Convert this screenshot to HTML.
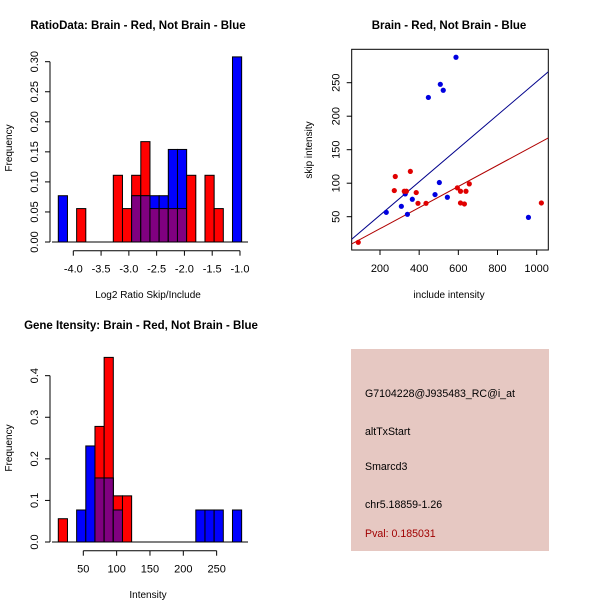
<!DOCTYPE html>
<html><head><meta charset="utf-8"><style>
body{margin:0;background:#fff}
svg{display:block;font-family:"Liberation Sans",sans-serif}
</style></head><body>
<svg id="s" width="600" height="600" viewBox="0 0 600 600">
<rect width="600" height="600" fill="#fff"/>
<text x="138" y="29" font-size="11.5" font-weight="bold" text-anchor="middle">RatioData: Brain - Red, Not Brain - Blue</text>
<text x="148" y="298" font-size="10" text-anchor="middle">Log2 Ratio Skip/Include</text>
<text transform="translate(12,148) rotate(-90)" font-size="10" text-anchor="middle">Frequency</text>
<text x="449" y="29" font-size="11.5" font-weight="bold" text-anchor="middle">Brain - Red, Not Brain - Blue</text>
<text x="449" y="298" font-size="10" text-anchor="middle">include intensity</text>
<text transform="translate(312,150) rotate(-90)" font-size="10" text-anchor="middle">skip intensity</text>
<text x="141" y="329" font-size="11.5" font-weight="bold" text-anchor="middle">Gene Itensity: Brain - Red, Not Brain - Blue</text>
<text x="148" y="598" font-size="10" text-anchor="middle">Intensity</text>
<text transform="translate(12,448) rotate(-90)" font-size="10" text-anchor="middle">Frequency</text>
<g>
<rect x="351" y="349" width="198" height="202" fill="#e6c8c2"/>
<text x="365" y="397" font-size="10.6">G7104228@J935483_RC@i_at</text>
<text x="365" y="435" font-size="10.6">altTxStart</text>
<text x="365" y="470" font-size="10.6">Smarcd3</text>
<text x="365" y="508" font-size="10.6">chr5.18859-1.26</text>
<text x="365" y="537" font-size="10.6" fill="#a00000">Pval: 0.185031</text>
</g>
</svg>
<script>
// Ratio histogram data
const ratioBinStart = -4.27, ratioBinWidth = 0.165;
const ratioRed  = [0,0,0.0556,0,0,0,0.111,0.0556,0.111,0.167,0.0556,0.0556,0.0556,0.0556,0.111,0,0.111,0.0556,0,0];
const ratioBlue = [0.077,0,0,0,0,0,0,0,0.077,0.077,0.077,0.077,0.154,0.154,0,0,0,0,0,0.308];
const ratioXTicks = [-4.0,-3.5,-3.0,-2.5,-2.0,-1.5,-1.0];
const ratioXTickLabels = ["-4.0","-3.5","-3.0","-2.5","-2.0","-1.5","-1.0"];
const ratioYTicks = [0,0.05,0.10,0.15,0.20,0.25,0.30];
const ratioYTickLabels = ["0.00","0.05","0.10","0.15","0.20","0.25","0.30"];
// Gene intensity histogram data
const geneBinStart = 12.5, geneBinWidth = 13.75;
const geneRed  = [0.056,0,0,0,0.278,0.444,0.111,0.111,0,0,0,0,0,0,0,0,0,0,0,0];
const geneBlue = [0,0,0.077,0.231,0.154,0.154,0.077,0,0,0,0,0,0,0,0,0.077,0.077,0.077,0,0.077];
const geneXTicks = [50,100,150,200,250];
const geneXTickLabels = ["50","100","150","200","250"];
const geneYTicks = [0,0.1,0.2,0.3,0.4];
const geneYTickLabels = ["0.0","0.1","0.2","0.3","0.4"];
// Scatter data
const blueInclude = [588,508,523,447,503,329,481,365,544,309,232,340,958];
const blueSkip    = [288,247.6,238.7,228,101,84,83,76,79,65.5,56.5,53.6,49];
const redInclude  = [89,278,355,273,324,385,394,435,595,611,639,656,611,631,1024,335];
const redSkip     = [11.8,110,117.6,89,88,86,70,70,93,88,88,99,70.5,69,70.5,88];
const fitSlope = [0.249,0.1576];
const fitIntercept = [2.5,0.6];
const fitColors = ["#00008b","#b00000"];
const scatterXTicks = [200,400,600,800,1000];
const scatterXTickLabels = ["200","400","600","800","1000"];
const scatterYTicks = [50,100,150,200,250];
const scatterYTickLabels = ["50","100","150","200","250"];

const svg = document.getElementById('s');
const NS = 'http://www.w3.org/2000/svg';
function mk(tag, attrs, parent){const e=document.createElementNS(NS,tag);for(const k in attrs)e.setAttribute(k,attrs[k]);(parent||svg).appendChild(e);return e;}

function hist(opts){
  const g = mk('g',{});
  
  
  const X = v => opts.x0px + (v - opts.x0) * opts.xs;
  const Y = v => opts.y0px - v * opts.ys;
  const n = opts.red.length;
  for (let k=0;k<n;k++){
    const a = opts.start + k*opts.width, b = a + opts.width;
    const r = opts.red[k], bl = opts.blue[k];
    const x = X(a), w = X(b)-X(a);
    const drawBar=(h,fill,nm)=>{const e=mk('rect',{x:x,y:Y(h),width:w,height:Y(0)-Y(h),fill:fill,stroke:'#000','stroke-width':1},g);
      
      };
    if (r>0) drawBar(r,'#ff0000','bar-red');
    if (bl>0) drawBar(bl,'#0000ff','bar-blue');
    if (r>0 && bl>0) drawBar(Math.min(r,bl),'#800080','bar-overlap');
  }
  const base = mk('line',{x1:opts.axL,x2:opts.axR,y1:Y(0),y2:Y(0),stroke:'#000'},g);
  
  
  const yl = mk('line',{x1:opts.yAxX,x2:opts.yAxX,y1:Y(opts.yTicks[0]),y2:Y(opts.yTicks[opts.yTicks.length-1]),stroke:'#000'},g);
  
  
  opts.yTicks.forEach((t,i)=>{
    mk('line',{x1:opts.yAxX-5,x2:opts.yAxX,y1:Y(t),y2:Y(t),stroke:'#000'},g);
    const tx = mk('text',{transform:`translate(${opts.yAxX-12},${Y(t)}) rotate(-90)`,'font-size':11,'text-anchor':'middle'},g);
    tx.textContent = opts.yLabels[i];
    
    
  });
  const xa = opts.xAxY;
  const xl = mk('line',{x1:X(opts.xTicks[0]),x2:X(opts.xTicks[opts.xTicks.length-1]),y1:xa,y2:xa,stroke:'#000'},g);
  
  
  opts.xTicks.forEach((t,i)=>{
    mk('line',{x1:X(t),x2:X(t),y1:xa,y2:xa+5,stroke:'#000'},g);
    const tx = mk('text',{x:X(t),y:xa+22,'font-size':11,'text-anchor':'middle'},g);
    tx.textContent = opts.xLabels[i];
    
    
  });
}

hist({name:'ratio-histogram',red:ratioRed,blue:ratioBlue,start:ratioBinStart,width:ratioBinWidth,
  x0:-4,x0px:73.3,xs:55.56,y0px:242,ys:601,axL:52,axR:248,yAxX:50,xAxY:250.7,
  xTicks:ratioXTicks,xLabels:ratioXTickLabels,yTicks:ratioYTicks,yLabels:ratioYTickLabels});
hist({name:'gene-intensity-histogram',red:geneRed,blue:geneBlue,start:geneBinStart,width:geneBinWidth,
  x0:50,x0px:83.3,xs:0.6667,y0px:542,ys:415.8,axL:52,axR:248,yAxX:50,xAxY:550.7,
  xTicks:geneXTicks,xLabels:geneXTickLabels,yTicks:geneYTicks,yLabels:geneYTickLabels});

(function(){
  const g = mk('g',{});
  
  
  const X = v => 380 + (v-200)*0.19583;
  const Y = v => 216.7 - (v-50)*0.67;
  const L=351.7,R=548.3,T=49.3,B=250;
  const box = mk('rect',{x:L,y:T,width:R-L,height:B-T,fill:'none',stroke:'#000'},g);
  
  
  const xmin = 200 + (L-380)/0.19583, xmax = 200 + (R-380)/0.19583;
  const cp = mk('clipPath',{id:'cp'},g); mk('rect',{x:L,y:T,width:R-L,height:B-T},cp);
  fitSlope.forEach((s,i)=>{
    const ln = mk('line',{x1:X(xmin),y1:Y(fitIntercept[i]+s*xmin),x2:X(xmax),y2:Y(fitIntercept[i]+s*xmax),stroke:fitColors[i],'stroke-width':1,'clip-path':'url(#cp)'},g);
    
    
  });
  blueInclude.forEach((v,i)=>{
    const c = mk('circle',{cx:X(v),cy:Y(blueSkip[i]),r:2.6,fill:'#0000e0'},g);
    
    
  });
  redInclude.forEach((v,i)=>{
    const c = mk('circle',{cx:X(v),cy:Y(redSkip[i]),r:2.6,fill:'#e00000'},g);
    
    
  });
  scatterXTicks.forEach((t,i)=>{
    mk('line',{x1:X(t),x2:X(t),y1:B,y2:B+5,stroke:'#000'},g);
    const tx = mk('text',{x:X(t),y:B+22,'font-size':11,'text-anchor':'middle'},g);
    tx.textContent = scatterXTickLabels[i];
    
    
  });
  scatterYTicks.forEach((t,i)=>{
    mk('line',{x1:L-5,x2:L,y1:Y(t),y2:Y(t),stroke:'#000'},g);
    const tx = mk('text',{transform:`translate(${L-12},${Y(t)}) rotate(-90)`,'font-size':11,'text-anchor':'middle'},g);
    tx.textContent = scatterYTickLabels[i];
    
    
  });
})();
</script>
</body></html>
